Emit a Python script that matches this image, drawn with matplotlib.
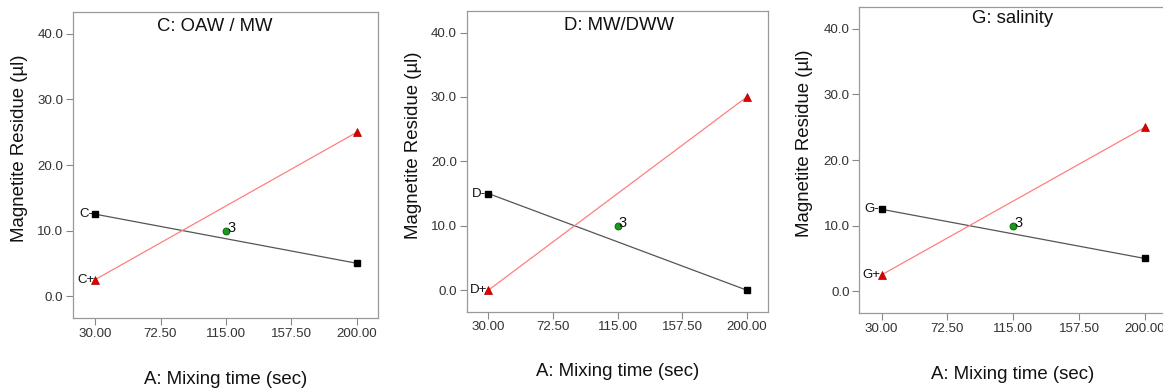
import matplotlib
matplotlib.use('Agg')
import matplotlib.pyplot as plt

plt.rcParams['font.family'] = ['Liberation Sans', 'DejaVu Sans']

# Datos
mixing_time = [30, 200]
x_ticks = [30, 72.5, 115, 157.5, 200]
y_ticks = [0, 10, 20, 30, 40]

titles = ["C: OAW / MW", "D: MW/DWW", "G: salinity"]
factors = ["C", "D", "G"]
minus_vals = [[12.5, 5], [15, 0], [12.5, 5]]
plus_vals = [[2.5, 25], [0, 30], [2.5, 25]]
center_x = 115
center_y = 10
center_n = "3"

fig = plt.figure(figsize=(11.63, 3.91), dpi=100)

# posiciones de los ejes [left, bottom, width, height]
positions = [
    [0.0628, 0.1867, 0.2623, 0.7826],
    [0.4013, 0.2028, 0.2588, 0.7690],
    [0.7389, 0.1987, 0.2640, 0.7840],
]
title_pos = [(0.466, 0.954), (0.506, 0.953), (0.50, 0.962)]

for i in range(3):
    ax = fig.add_axes(positions[i])
    ax.plot(mixing_time, minus_vals[i], color='#555555', linewidth=0.9,
            marker='s', markersize=5, markerfacecolor='black',
            markeredgecolor='black', zorder=2)
    ax.plot(mixing_time, plus_vals[i], color='#ff7f7f', linewidth=0.9,
            zorder=2)
    ax.plot(mixing_time, plus_vals[i], linestyle='none', marker='^',
            markersize=5.5, markerfacecolor='#dd0000', markeredgecolor='#aa0000',
            markeredgewidth=0.5, zorder=3)
    ax.plot([center_x], [center_y], linestyle='none', marker='o', markersize=5,
            markerfacecolor='#1a9a1a', markeredgecolor='#0a5a0a',
            markeredgewidth=0.6, zorder=4)

    # etiquetas de los puntos
    ax.annotate(factors[i] + "-", (mixing_time[0], minus_vals[i][0]),
                xytext=(-1.5, 0), textcoords='offset points',
                ha='right', va='center', fontsize=9.5, color='#111111')
    ax.annotate(factors[i] + "+", (mixing_time[0], plus_vals[i][0]),
                xytext=(-0.5, 0), textcoords='offset points',
                ha='right', va='center', fontsize=9.5, color='#111111')
    ax.annotate(center_n, (center_x, center_y), xytext=(0.8, -1),
                textcoords='offset points', ha='left', va='baseline',
                fontsize=10.5, color='#111111', zorder=5)

    ax.set_xlim(15.7, 213.8)
    ax.set_ylim(-3.35, 43.35)
    ax.set_xticks(x_ticks)
    ax.set_xticklabels(["%.2f" % t for t in x_ticks])
    ax.set_yticks(y_ticks)
    ax.set_yticklabels(["%.1f" % t for t in y_ticks])
    ax.tick_params(direction='out', length=5, width=0.8, color='#888888',
                   labelsize=9.6, labelcolor='#333333', pad=2)
    for sp in ax.spines.values():
        sp.set_color('#999999')
        sp.set_linewidth(0.9)

    ax.text(title_pos[i][0], title_pos[i][1], titles[i], transform=ax.transAxes,
            ha='center', va='center', fontsize=13.3, color='#111111')
    ax.set_xlabel("A: Mixing time (sec)", fontsize=13.4, color='#111111',
                  va='center')
    ax.xaxis.set_label_coords(0.5, -0.2)
    ax.set_ylabel("Magnetite Residue (µl)", fontsize=13.4, color='#111111',
                  va='center')
    ax.yaxis.set_label_coords(-0.177, 0.555)

fig.savefig("out.png", dpi=100)
